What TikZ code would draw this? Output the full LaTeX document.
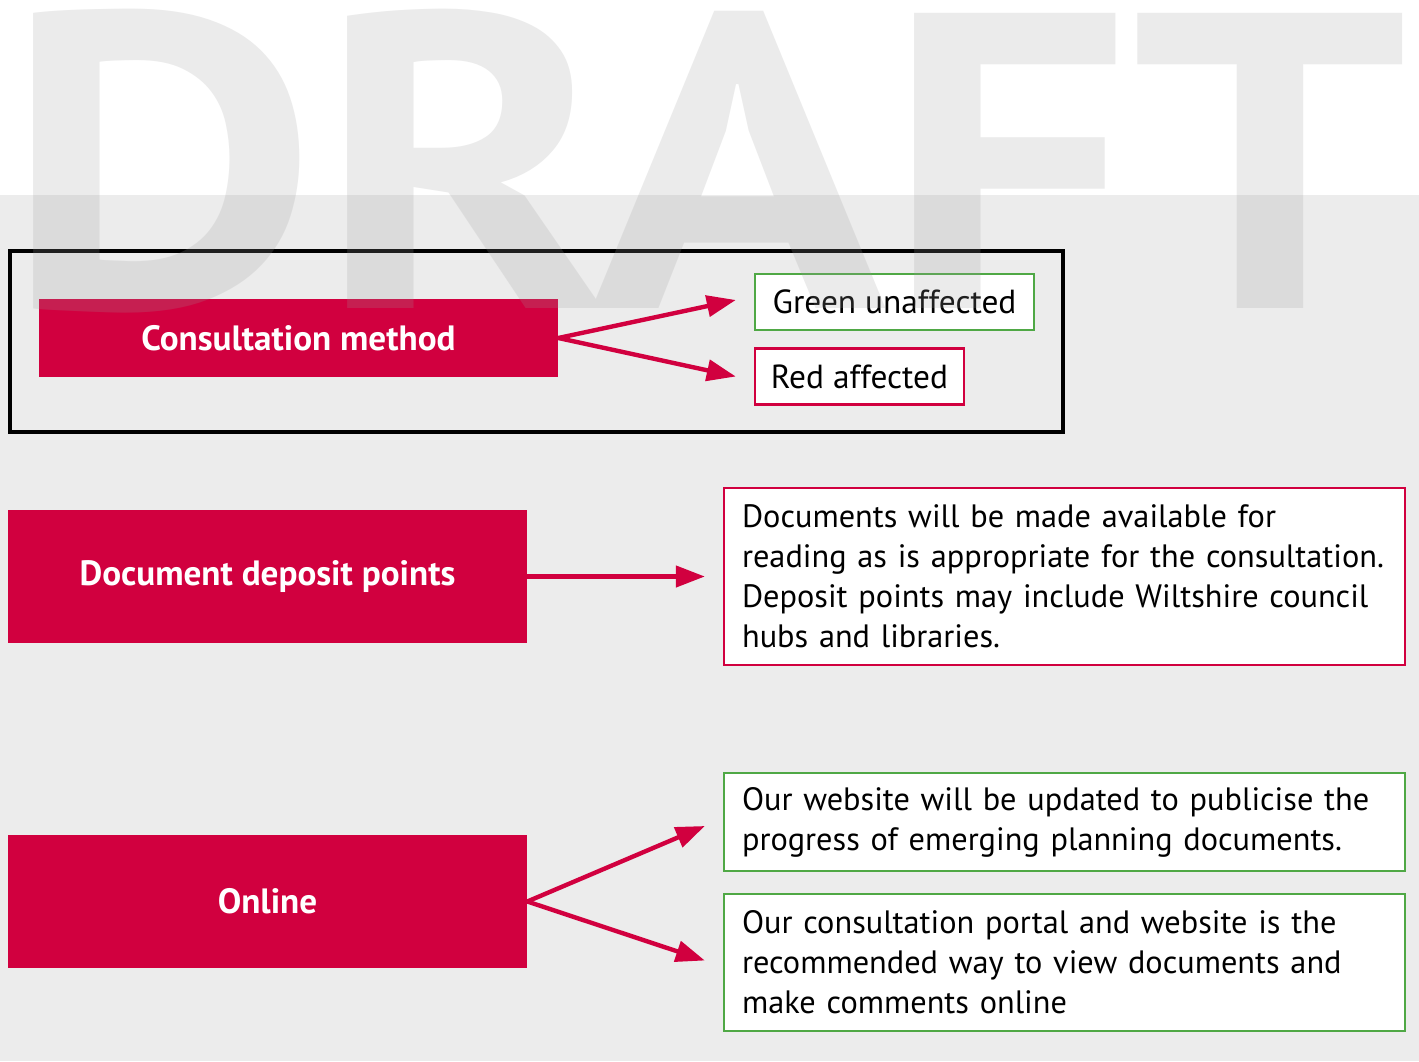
\documentclass[tikz,border=0pt]{standalone}
\usepackage{fontspec}
\setmainfont{PT Sans}
\usetikzlibrary{positioning,calc,arrows.meta}
\definecolor{crimsonred}{HTML}{D1003F}
\definecolor{leafgreen}{HTML}{4FA845}
\definecolor{panelgray}{HTML}{ECECEC}
\definecolor{draftgray}{HTML}{9B9B9B}

\tikzset{
	headbox/.style={rectangle, fill=crimsonred, text=white, font=\fontsize{20}{24}\selectfont\bfseries, minimum width=10.38cm, inner sep=0pt},
	tagbox/.style={rectangle, draw=#1, fill=white, line width=1.4pt, font=\fontsize{19}{23}\selectfont, inner sep=0pt, minimum height=1.12cm},
	infobox/.style={rectangle, draw=#1, fill=white, line width=1.4pt, font=\fontsize{18.4}{22.8}\selectfont, text width=12.9cm, align=left, inner xsep=0.36cm, inner ysep=0pt},
	link/.style={crimsonred, line width=2.5pt, -{Triangle[length=0.58cm,width=0.42cm]}}
}

\begin{document}
\begin{tikzpicture}[x=0.02cm,y=-0.02cm]
	\useasboundingbox (0,0) rectangle (1419,1061);
	\fill[white] (0,0) rectangle (1419,195);
	\fill[panelgray] (0,195) rectangle (1419,1061);
	
	%\draw[black,line width=2.4pt] (frame.north west) rectangle (frame.south east);
	\draw[black,line width=2.4pt] (10,251) rectangle (1063,432);
	
	\node[headbox, minimum height=1.56cm] (method) at (298.5,338) {Consultation method};
	\node[tagbox=leafgreen, minimum width=5.58cm] (green) at (894.5,302) {Green unaffected};
	\node[tagbox=crimsonred, minimum width=4.18cm] (red) at (859.5,376.5) {Red affected};
	
	\node[headbox, minimum height=2.66cm] (deposit) at (267.5,576.5) {Document deposit points};
	\node[infobox=crimsonred, minimum height=3.54cm] (docs) at (1064.5,576.5) {Documents will be made available for\\reading as is appropriate for the consultation.\\Deposit points may include Wiltshire council\\hubs and libraries.};
	
	\node[headbox, minimum height=2.66cm] (online) at (267.5,901.5) {Online};
	\node[infobox=leafgreen, minimum height=1.96cm] (web) at (1064.5,822) {Our website will be updated to publicise the\\progress of emerging planning documents.};
	\node[infobox=leafgreen, minimum height=2.74cm] (portal) at (1064.5,962.5) {Our consultation portal and website is the\\recommended way to view documents and\\make comments online};
	
	\draw[link] (method.east) -- ($(green.west)+(-18,-2)$);
	\draw[link] (method.east) -- ($(red.west)+(-18,0)$);
	\draw[link] (deposit.east) -- ($(docs.west)+(-18,0)$);
	\draw[link] (online.east) -- ($(web.west)+(-18,4)$);
	\draw[link] (online.east) -- ($(portal.west)+(-18,-2)$);
	
	\begin{scope}[transparency group, opacity=0.2]
		\node[anchor=base west, text=draftgray, font=\fontsize{240}{240}\selectfont\bfseries, inner sep=0pt] (draft) at (4,308) {\scalebox{1.15}[1]{DRAFT}};
	\end{scope}
\end{tikzpicture}
\end{document}
